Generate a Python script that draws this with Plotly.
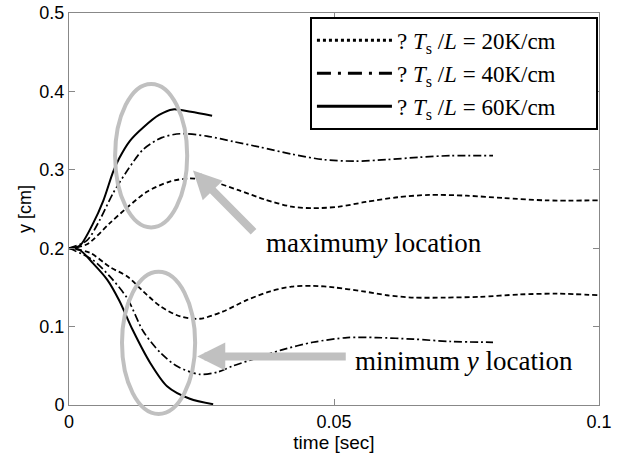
import plotly.graph_objects as go

# ---- data ----
t20_up = [0, 0.0034, 0.0077, 0.011, 0.0147, 0.019, 0.0228, 0.027, 0.032, 0.037, 0.042, 0.046,
          0.051, 0.056, 0.062, 0.068, 0.075, 0.082, 0.09, 0.1]
y20_up = [0.2, 0.205, 0.232, 0.252, 0.272, 0.285, 0.289, 0.285, 0.274, 0.262, 0.253, 0.251,
          0.253, 0.259, 0.265, 0.268, 0.267, 0.264, 0.261, 0.261]
t20_lo = [0, 0.004, 0.0077, 0.011, 0.014, 0.0172, 0.021, 0.0247, 0.029, 0.0336, 0.038, 0.042,
          0.046, 0.050, 0.0555, 0.060, 0.065, 0.071, 0.0775, 0.085, 0.092, 0.1]
y20_lo = [0.2, 0.194, 0.176, 0.164, 0.145, 0.126, 0.113, 0.110, 0.119, 0.134, 0.145, 0.151,
          0.152, 0.150, 0.145, 0.140, 0.137, 0.137, 0.138, 0.141, 0.142, 0.140]

t40_up = [0, 0.0034, 0.0058, 0.0083, 0.011, 0.014, 0.0175, 0.021, 0.026, 0.031, 0.036, 0.042,
          0.048, 0.054, 0.060, 0.066, 0.072, 0.080]
y40_up = [0.2, 0.210, 0.236, 0.270, 0.299, 0.326, 0.341, 0.346, 0.343, 0.336, 0.329, 0.320,
          0.313, 0.311, 0.313, 0.316, 0.318, 0.318]
t40_lo = [0, 0.0045, 0.0077, 0.011, 0.014, 0.0172, 0.0205, 0.0247, 0.028, 0.031, 0.0355, 0.040,
          0.046, 0.0525, 0.058, 0.065, 0.072, 0.080]
y40_lo = [0.2, 0.185, 0.164, 0.136, 0.094, 0.067, 0.049, 0.039, 0.042, 0.050, 0.060, 0.070,
          0.080, 0.086, 0.086, 0.084, 0.081, 0.080]

t60_up = [0, 0.002, 0.0045, 0.0065, 0.0083, 0.0095, 0.0115, 0.014, 0.017, 0.0196, 0.023, 0.027]
y60_up = [0.2, 0.203, 0.231, 0.261, 0.297, 0.315, 0.337, 0.354, 0.370, 0.377, 0.374, 0.369]
t60_lo = [0, 0.002, 0.0045, 0.0072, 0.0095, 0.012, 0.0153, 0.0185, 0.0228, 0.0272]
y60_lo = [0.2, 0.198, 0.181, 0.160, 0.133, 0.096, 0.054, 0.024, 0.008, 0.001]

legend_labels = ["? <i>T</i><sub>s</sub> /<i>L</i> = 20K/cm",
                 "? <i>T</i><sub>s</sub> /<i>L</i> = 40K/cm",
                 "? <i>T</i><sub>s</sub> /<i>L</i> = 60K/cm"]

x_ticks = [0, 0.05, 0.1]
x_tick_text = ["0", "0.05", "0.1"]
y_ticks = [0, 0.1, 0.2, 0.3, 0.4, 0.5]
y_tick_text = ["0", "0.1", "0.2", "0.3", "0.4", "0.5"]

# highlighted regions (data coordinates: center x, center y, half-width, half-height)
ellipse_upper = (0.0155, 0.318, 0.0068, 0.0915)
ellipse_lower = (0.0169, 0.0793, 0.0069, 0.0907)

X_RANGE = [0, 0.1]
Y_RANGE = [0, 0.5]

SERIF = "Liberation Serif, Times New Roman, serif"
SANS = "Liberation Sans, Arial, sans-serif"

fig = go.Figure()

styles = [
    dict(dash="5px,3px", width=1.8),
    dict(dash="8px,3px,2px,3px", width=1.7),
    dict(dash="solid", width=2),
]
curves = [(t20_up, y20_up, t20_lo, y20_lo), (t40_up, y40_up, t40_lo, y40_lo),
          (t60_up, y60_up, t60_lo, y60_lo)]
for (tu, yu, tl, yl), st in zip(curves, styles):
    for tt, yy in ((tu, yu), (tl, yl)):
        fig.add_trace(go.Scatter(x=tt, y=yy, mode="lines", showlegend=False,
                                 line=dict(color="black", width=st["width"], dash=st["dash"],
                                           shape="spline", smoothing=0.8)))

legend_styles = [dict(dash="3px,3px", width=3),
                 dict(dash="14px,7px,3px,7px", width=3),
                 dict(dash="solid", width=3)]
for lab, st in zip(legend_labels, legend_styles):
    fig.add_trace(go.Scatter(x=[None], y=[None], mode="lines",
                             name=lab + "&nbsp;&nbsp;&nbsp;&nbsp;&nbsp;&nbsp;",
                             line=dict(color="black", width=st["width"], dash=st["dash"])))

def to_paper(x, y):
    return ((x - X_RANGE[0]) / (X_RANGE[1] - X_RANGE[0]),
            (y - Y_RANGE[0]) / (Y_RANGE[1] - Y_RANGE[0]))

for cx, cy, rx, ry in (ellipse_upper, ellipse_lower):
    x0, y0 = to_paper(cx - rx, cy - ry)
    x1, y1 = to_paper(cx + rx, cy + ry)
    fig.add_shape(type="circle", xref="paper", yref="paper", x0=x0, y0=y0, x1=x1, y1=y1,
                  line=dict(color="#c0c0c0", width=4), layer="above")

# arrows
arrow_color = "#c0c0c0"
fig.add_annotation(x=0.0234, y=0.299, ax=0.0351, ay=0.219, xref="x", yref="y", axref="x", ayref="y",
                   showarrow=True, arrowhead=2, arrowsize=0.7, arrowwidth=8, arrowcolor=arrow_color,
                   text="")
fig.add_annotation(x=0.0242, y=0.062, ax=0.0525, ay=0.062, xref="x", yref="y", axref="x", ayref="y",
                   showarrow=True, arrowhead=2, arrowsize=0.7, arrowwidth=8, arrowcolor=arrow_color,
                   text="")
fig.add_annotation(x=0.0575, y=0.207, xref="x", yref="y", showarrow=False,
                   text="maximum<i>y</i> location",
                   font=dict(family=SERIF, size=27, color="black"))
fig.add_annotation(x=0.0745, y=0.056, xref="x", yref="y", showarrow=False,
                   text="minimum <i>y</i> location",
                   font=dict(family=SERIF, size=27, color="black"))

axis_common = dict(showgrid=False, zeroline=False, showline=True, linecolor="#888888", linewidth=1,
                   mirror="ticks", ticks="inside", ticklen=6, tickcolor="#888888", automargin=False,
                   tickfont=dict(family=SANS, size=18, color="black"))

fig.update_layout(
    width=635, height=454,
    margin=dict(l=69, r=36, t=13, b=49),
    paper_bgcolor="white", plot_bgcolor="white",
    showlegend=True,
    legend=dict(x=0.998, y=0.99, xanchor="right", yanchor="top",
                bgcolor="white", bordercolor="black", borderwidth=2,
                font=dict(family=SERIF, size=23, color="black"),
                tracegroupgap=0, itemwidth=75),
    xaxis=dict(range=X_RANGE, tickvals=x_ticks, ticktext=x_tick_text,
               title=dict(text="time [sec]", standoff=2,
                          font=dict(family=SANS, size=19, color="black")),
               **axis_common),
    yaxis=dict(range=Y_RANGE, tickvals=y_ticks, ticktext=y_tick_text,
               title=dict(text="y [cm]", standoff=3,
                          font=dict(family=SANS, size=18, color="black")),
               **axis_common),
)

fig.write_html("out.html", config={"displayModeBar": False},
               post_script="document.body.style.margin='0';")
